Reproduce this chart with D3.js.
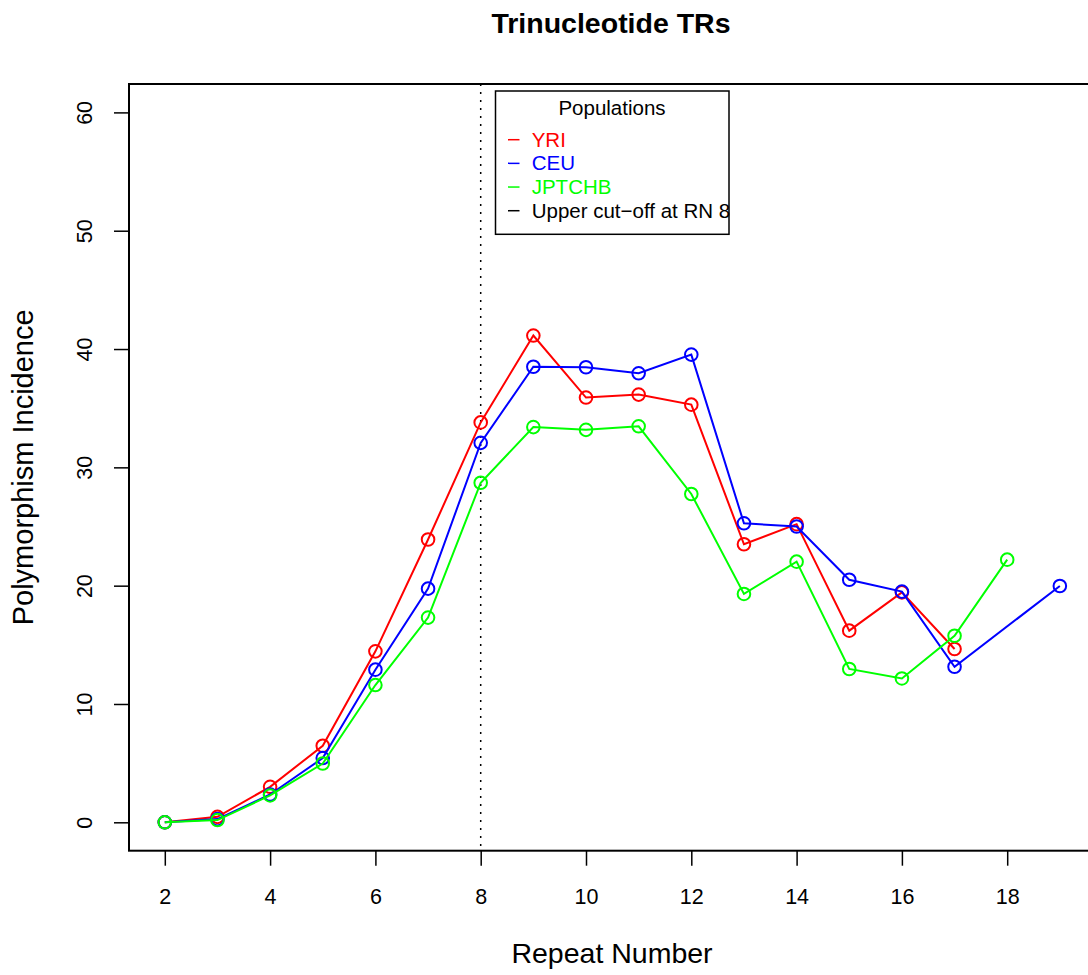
<!DOCTYPE html>
<html>
<head>
<meta charset="utf-8">
<script src="https://cdn.jsdelivr.net/npm/d3@7"></script>
<style>
  body { margin: 0; background: #fff; }
  svg { display: block; font-family: "Liberation Sans", Arial, Helvetica, sans-serif; }
</style>
</head>
<body>
<div id="chart"></div>
<script>
// repeat numbers and values per population
const rnYRI = [2, 3, 4, 5, 6, 7, 8, 9, 10, 11, 12, 13, 14, 15, 16, 17]
const yri   = [0, 0.46, 3.0, 6.47, 14.45, 23.9, 33.8, 41.14, 35.9, 36.15, 35.3, 23.5, 25.2, 16.2, 19.43, 14.65]
const rnCEU = [2, 3, 4, 5, 6, 7, 8, 9, 10, 11, 12, 13, 14, 15, 16, 17, 19]
const ceu   = [0, 0.27, 2.35, 5.43, 12.9, 19.75, 32.07, 38.5, 38.46, 37.95, 39.53, 25.27, 25.0, 20.5, 19.5, 13.15, 19.97]
const rnJPT = [2, 3, 4, 5, 6, 7, 8, 9, 10, 11, 12, 13, 14, 15, 16, 17, 18]
const jpt   = [0, 0.19, 2.27, 4.97, 11.6, 17.3, 28.7, 33.4, 33.17, 33.47, 27.75, 19.3, 22.03, 12.96, 12.16, 15.77, 22.2]

const xTicks = [2, 4, 6, 8, 10, 12, 14, 16, 18]
const yTicks = [0, 10, 20, 30, 40, 50, 60]
const cutoff = 8

const legendLabels = ["YRI", "CEU", "JPTCHB", "Upper cut\u2212off at RN 8"]
const legendColors = ["#ff0000", "#0000ff", "#00ff00", "#000000"]

const series = [
  {name: "YRI", color: "#ff0000", values: rnYRI.map((r, i) => ({x: r, y: yri[i]}))},
  {name: "CEU", color: "#0000ff", values: rnCEU.map((r, i) => ({x: r, y: ceu[i]}))},
  {name: "JPTCHB", color: "#00ff00", values: rnJPT.map((r, i) => ({x: r, y: jpt[i]}))}
]

var W = 1088, H = 975
var plotLeft = 129, plotTop = 84, plotBottom = 850.7

var svg = d3.select("#chart").append("svg")
    .attr("width", W)
    .attr("height", H)

// R style 4% padding around data range
var x = d3.scaleLinear().domain([1.32, 19.68]).range([plotLeft, plotLeft + 18.36 * 52.65])
var y = d3.scaleLinear().domain([-2.4, 62.4]).range([plotBottom, plotTop])

// title
svg.append("text")
    .attr("x", 611).attr("y", 33)
    .attr("text-anchor", "middle")
    .attr("font-size", 28.5)
    .attr("font-weight", "bold")
    .text("Trinucleotide TRs")

// x axis
var xAxis = svg.append("g")
    .attr("transform", "translate(0," + plotBottom + ")")
    .call(d3.axisBottom(x).tickValues(xTicks).tickSize(15).tickSizeOuter(0).tickPadding(23))
xAxis.attr("font-family", null).attr("font-size", null)
xAxis.select(".domain").remove()
xAxis.selectAll("line").attr("stroke", "#000").attr("stroke-width", 1.5)
xAxis.selectAll("text").attr("font-size", 21.5).attr("fill", "#000")

// y axis
var yAxis = svg.append("g")
    .attr("transform", "translate(" + plotLeft + ",0)")
    .call(d3.axisLeft(y).tickValues(yTicks).tickSize(15).tickSizeOuter(0))
yAxis.attr("font-family", null).attr("font-size", null)
yAxis.select(".domain").remove()
yAxis.selectAll("line").attr("stroke", "#000").attr("stroke-width", 1.5)
yAxis.selectAll("text")
    .attr("x", null).attr("dy", null)
    .attr("transform", "translate(-37,0) rotate(-90)")
    .attr("text-anchor", "middle")
    .attr("font-size", 21.5).attr("fill", "#000")

// axis labels
svg.append("text")
    .attr("x", 612).attr("y", 963)
    .attr("text-anchor", "middle")
    .attr("font-size", 28.5)
    .text("Repeat Number")

svg.append("text")
    .attr("transform", "translate(33," + ((plotTop + plotBottom) / 2) + ") rotate(-90)")
    .attr("text-anchor", "middle")
    .attr("font-size", 29)
    .text("Polymorphism Incidence")

// cut-off line
svg.append("line")
    .attr("x1", x(cutoff)).attr("x2", x(cutoff))
    .attr("y1", plotTop).attr("y2", plotBottom)
    .attr("stroke", "#000")
    .attr("stroke-width", 1.5)
    .attr("stroke-dasharray", "2,6")

// lines + points
var line = d3.line().x(d => x(d.x)).y(d => y(d.y))

series.forEach(function(s) {
  svg.append("path")
      .datum(s.values)
      .attr("fill", "none")
      .attr("stroke", s.color)
      .attr("stroke-width", 2)
      .attr("d", line)
  svg.selectAll(null)
      .data(s.values)
      .enter()
      .append("circle")
      .attr("cx", d => x(d.x))
      .attr("cy", d => y(d.y))
      .attr("r", 6.3)
      .attr("fill", "none")
      .attr("stroke", s.color)
      .attr("stroke-width", 2)
})

// plot box
svg.append("rect")
    .attr("x", plotLeft).attr("y", plotTop)
    .attr("width", x.range()[1] - plotLeft)
    .attr("height", plotBottom - plotTop)
    .attr("fill", "none")
    .attr("stroke", "#000")
    .attr("stroke-width", 2)

// legend
var lg = svg.append("g")
lg.append("rect")
    .attr("x", 495.5).attr("y", 91)
    .attr("width", 233.5).attr("height", 143.3)
    .attr("fill", "#fff")
    .attr("stroke", "#000")
    .attr("stroke-width", 1.5)
lg.append("text")
    .attr("x", 612).attr("y", 115)
    .attr("text-anchor", "middle")
    .attr("font-size", 20.5)
    .text("Populations")

legendLabels.forEach(function(lab, i) {
  var by = 146.7 + i * 23.67
  lg.append("line")
      .attr("x1", 508).attr("x2", 519.5)
      .attr("y1", by - 7).attr("y2", by - 7)
      .attr("stroke", legendColors[i])
      .attr("stroke-width", 1.5)
  lg.append("text")
      .attr("x", 531.7).attr("y", by)
      .attr("font-size", 20.5)
      .attr("fill", legendColors[i])
      .text(lab)
})
</script>
</body>
</html>
